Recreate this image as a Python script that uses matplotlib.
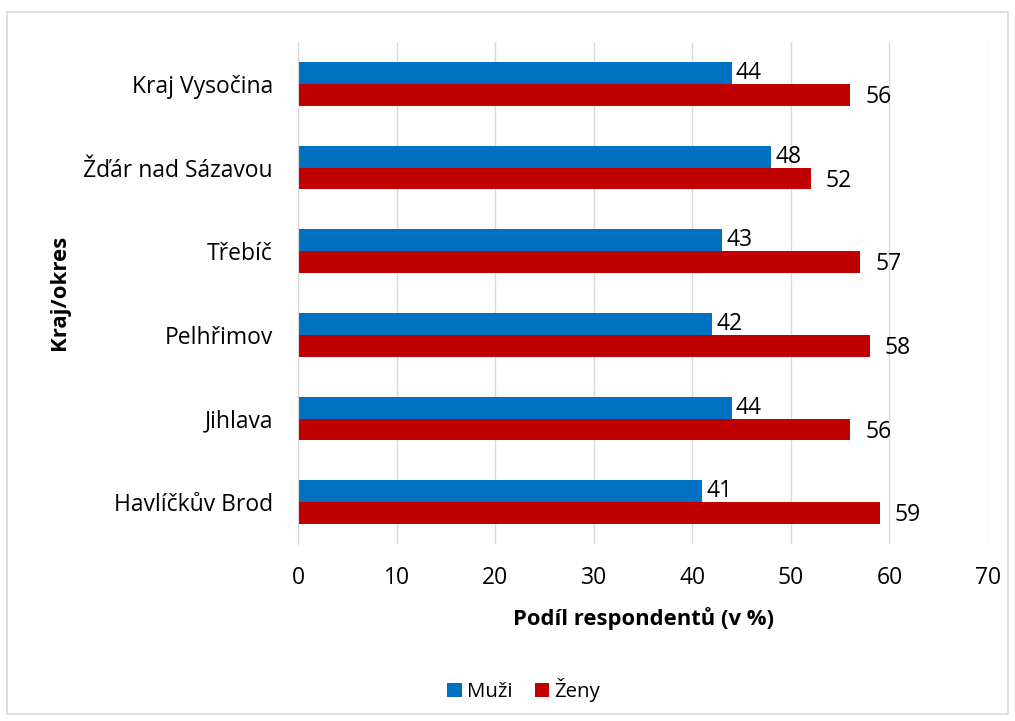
import matplotlib.pyplot as plt
import numpy as np
from matplotlib.patches import Rectangle

plt.rcParams['font.family'] = ['Open Sans', 'DejaVu Sans']

kraje = ['Kraj Vysočina', 'Žďár nad Sázavou', 'Třebíč', 'Pelhřimov', 'Jihlava', 'Havlíčkův Brod']
muzi = [44, 48, 43, 42, 44, 41]
zeny = [56, 52, 57, 58, 56, 59]

modra = '#0070C0'
cervena = '#C00000'

fig = plt.figure(figsize=(10.15, 7.21), dpi=100)
ax = fig.add_axes([0.2936, 0.2455, 0.6798, 0.6962])

# kategorie odshora dolu
y = np.arange(len(kraje))[::-1]
h = 0.262
b1 = ax.barh(y + h / 2, muzi, height=h, color=modra, label='Muži', zorder=3)
b2 = ax.barh(y - h / 2, zeny, height=h, color=cervena, label='Ženy', zorder=3)

for yi, v in zip(y, muzi):
    ax.annotate(str(v), (v, yi + h / 2), xytext=(3, 0), textcoords='offset points',
                va='center', ha='left', fontsize=16.5, color='#000000')
for yi, v in zip(y, zeny):
    ax.annotate(str(v), (v, yi - h / 2), xytext=(11, -1.5), textcoords='offset points',
                va='center', ha='left', fontsize=16.5, color='#000000')

ax.set_xlim(0, 70)
ax.set_ylim(-0.5, len(kraje) - 0.5)
ax.set_xticks(range(0, 71, 10))
ax.set_yticks(y)
ax.set_yticklabels(kraje)
ax.tick_params(length=0, labelsize=16.5)
ax.tick_params(axis='y', pad=18)
ax.tick_params(axis='x', pad=16)
ax.grid(axis='x', color='#D9D9D9', lw=1, zorder=0)
for s in ['top', 'right', 'bottom']:
    ax.spines[s].set_visible(False)
ax.spines['left'].set_color('#D9D9D9')
ax.spines['left'].set_zorder(4)

ax.set_xlabel('Podíl respondentů (v %)', fontsize=15.8, fontweight='bold', labelpad=12)
fig.text(0.059, 0.5938, 'Kraj/okres', rotation=90, fontsize=16, fontweight='bold',
         ha='center', va='center')

fig.legend(handles=[b1, b2], loc='center', bbox_to_anchor=(0.516, 0.043), ncol=2,
           frameon=False, fontsize=14.7, handlelength=0.7, handleheight=0.7,
           handletextpad=0.25, columnspacing=1.1)

fig.patches.append(Rectangle((0.007, 0.01), 0.986, 0.973, transform=fig.transFigure,
                             fill=False, edgecolor='#D9D9D9', lw=1.2))

fig.savefig('out.png', dpi=100)
